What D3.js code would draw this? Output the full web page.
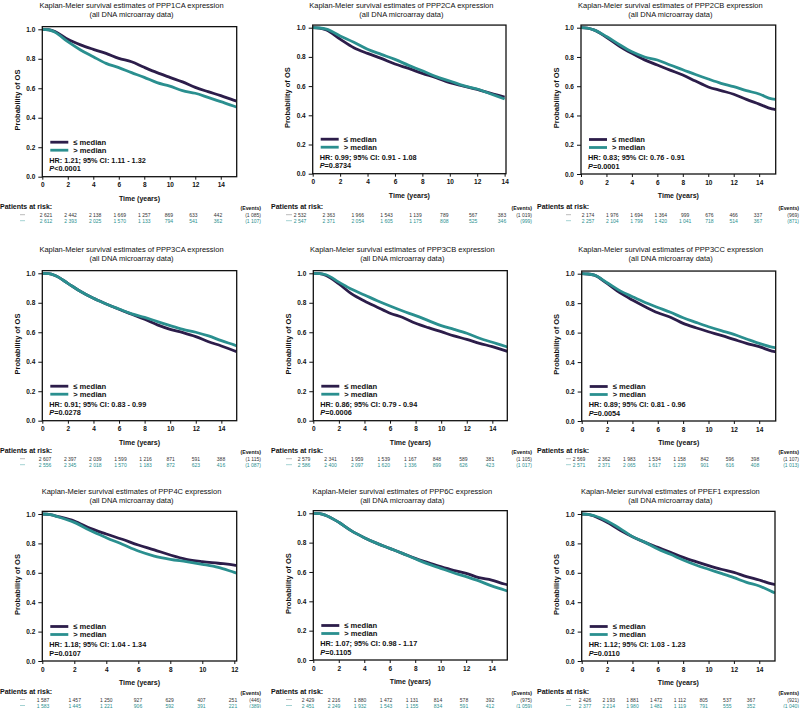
<!DOCTYPE html>
<html><head><meta charset="utf-8">
<script src="https://cdn.jsdelivr.net/npm/d3@7"></script>
<style>
body{margin:0;background:#fff}
svg{display:block}
text{font-family:"Liberation Sans",Arial,Helvetica,sans-serif;fill:#111}
</style>
</head><body>
<svg id="c" width="800" height="708"></svg>
<script>
// ---------------- DATA ----------------
const genes = ["PPP1CA","PPP2CA","PPP2CB","PPP3CA","PPP3CB","PPP3CC","PPP4C","PPP6C","PPEF1"];
const seriesNames = ["\u2264 median", "> median"];

// time points (years) at which the survival curves were read
const survTimes = [
  [0,0.5,1,2,3,4,5,6,7,8,9,10,11,12,13,14,15,15.25],
  [0,0.5,1,2,3,4,5,6,7,8,9,10,11,12,13,14],
  [0,0.5,1,2,3,4,5,6,7,8,9,10,11,12,13,14,15,15.3],
  [0,0.5,1,2,3,4,5,6,7,8,9,10,11,12,13,14,15,15.2],
  [0,0.5,1,2,3,4,5,6,7,8,9,10,11,12,13,14,15,15.17],
  [0,0.5,1,2,3,4,5,6,7,8,9,10,11,12,13,14,15,15.3],
  [0,0.5,1,2,3,4,5,6,7,8,9,10,11,12,12.15],
  [0,0.5,1,2,3,4,5,6,7,8,9,10,11,12,13,14,15,15.23],
  [0,0.5,1,2,3,4,5,6,7,8,9,10,11,12,13,14,15,15.24]
];
// survival, <= median expression
const lowSurv = [
  [1,0.997,0.985,0.932,0.894,0.864,0.837,0.803,0.78,0.742,0.706,0.674,0.643,0.606,0.577,0.55,0.52,0.513],
  [1,0.997,0.985,0.922,0.863,0.824,0.79,0.751,0.721,0.687,0.658,0.623,0.6,0.578,0.55,0.525],
  [1,0.997,0.985,0.935,0.875,0.825,0.78,0.745,0.71,0.677,0.635,0.595,0.57,0.545,0.51,0.478,0.445,0.44],
  [1,0.998,0.985,0.932,0.876,0.83,0.792,0.756,0.722,0.688,0.65,0.62,0.597,0.57,0.536,0.507,0.475,0.468],
  [1,0.998,0.985,0.928,0.86,0.812,0.77,0.729,0.7,0.661,0.631,0.604,0.575,0.552,0.525,0.502,0.475,0.47],
  [1,0.998,0.99,0.934,0.871,0.821,0.776,0.735,0.704,0.663,0.633,0.606,0.581,0.554,0.527,0.505,0.475,0.47],
  [1,0.995,0.982,0.952,0.902,0.864,0.828,0.789,0.756,0.721,0.692,0.676,0.665,0.653,0.65],
  [1,0.998,0.985,0.939,0.88,0.834,0.795,0.761,0.727,0.693,0.664,0.636,0.611,0.591,0.561,0.545,0.518,0.513],
  [1,0.998,0.985,0.943,0.891,0.846,0.807,0.773,0.739,0.705,0.676,0.649,0.624,0.603,0.574,0.551,0.524,0.52]
];
// survival, > median expression
const highSurv = [
  [1,0.997,0.98,0.916,0.86,0.814,0.769,0.74,0.706,0.674,0.638,0.615,0.584,0.566,0.538,0.509,0.48,0.472],
  [1,0.998,0.99,0.943,0.9,0.852,0.817,0.783,0.742,0.705,0.665,0.635,0.603,0.58,0.546,0.512],
  [1,0.997,0.985,0.94,0.885,0.835,0.8,0.779,0.745,0.713,0.68,0.649,0.62,0.597,0.57,0.547,0.513,0.51],
  [1,0.998,0.985,0.932,0.876,0.83,0.792,0.758,0.725,0.701,0.672,0.645,0.62,0.6,0.575,0.543,0.514,0.508],
  [1,0.998,0.99,0.94,0.891,0.853,0.814,0.778,0.744,0.713,0.679,0.645,0.62,0.593,0.559,0.532,0.505,0.5],
  [1,0.998,0.99,0.939,0.885,0.844,0.805,0.771,0.738,0.701,0.67,0.64,0.613,0.588,0.557,0.527,0.502,0.497],
  [1,0.995,0.98,0.943,0.887,0.839,0.794,0.748,0.714,0.692,0.676,0.658,0.637,0.603,0.598],
  [1,0.998,0.985,0.939,0.88,0.834,0.795,0.761,0.727,0.69,0.655,0.625,0.595,0.568,0.539,0.505,0.477,0.47],
  [1,0.998,0.988,0.952,0.902,0.846,0.807,0.762,0.726,0.687,0.653,0.624,0.596,0.567,0.535,0.51,0.472,0.462]
];
const hrLabels = [
  "HR: 1.21; 95% CI: 1.11 - 1.32","HR: 0.99; 95% CI: 0.91 - 1.08","HR: 0.83; 95% CI: 0.76 - 0.91",
  "HR: 0.91; 95% CI: 0.83 - 0.99","HR: 0.86; 95% CI: 0.79 - 0.94","HR: 0.89; 95% CI: 0.81 - 0.96",
  "HR: 1.18; 95% CI: 1.04 - 1.34","HR: 1.07; 95% CI: 0.98 - 1.17","HR: 1.12; 95% CI: 1.03 - 1.23"
];
const pLabels = ["<0.0001","=0.8734","=0.0001","=0.0278","=0.0006","=0.0054","=0.0107","=0.1105","=0.0110"];
const pItalic = [true,true,true,true,true,true,false,true,true];
const xTickMax = [14,14,14,14,14,14,12,14,14];
const yTicks = [0,0.2,0.4,0.6,0.8,1.0];

const riskLow = [
  ["2 621","2 442","2 138","1 669","1 257","869","633","442"],
  ["2 532","2 363","1 966","1 543","1 139","789","567","383"],
  ["2 174","1 976","1 694","1 364","999","676","466","337"],
  ["2 607","2 397","2 039","1 599","1 216","871","591","388"],
  ["2 579","2 341","1 959","1 539","1 167","848","589","381"],
  ["2 569","2 362","1 983","1 534","1 158","842","596","398"],
  ["1 587","1 457","1 250","927","629","407","251"],
  ["2 429","2 216","1 880","1 472","1 131","814","578","392"],
  ["2 426","2 193","1 881","1 472","1 112","805","537","367"]
];
const riskHigh = [
  ["2 612","2 393","2 025","1 570","1 133","794","541","362"],
  ["2 547","2 371","2 054","1 605","1 175","808","525","346"],
  ["2 257","2 104","1 799","1 420","1 041","718","514","367"],
  ["2 556","2 345","2 018","1 570","1 183","872","623","416"],
  ["2 586","2 400","2 097","1 620","1 336","899","626","423"],
  ["2 571","2 371","2 065","1 617","1 239","901","616","408"],
  ["1 583","1 445","1 221","906","592","391","221"],
  ["2 451","2 249","1 932","1 543","1 155","834","591","412"],
  ["2 377","2 214","1 980","1 481","1 119","791","555","352"]
];
const eventsLow = ["(1 085)","(1 019)","(969)","(1 115)","(1 105)","(1 107)","(446)","(975)","(921)"];
const eventsHigh = ["(1 107)","(999)","(871)","(1 087)","(1 017)","(1 013)","(389)","(1 059)","(1 040)"];

// ---------------- LAYOUT ----------------
const frames = [
  {L:42.3,R:236.7,top:29.3,bottom:176.7,xMax:15.25},
  {L:312.7,R:506,top:27.7,bottom:173.7,xMax:14.1},
  {L:581,R:775.7,top:27.7,bottom:174,xMax:15.3},
  {L:42.3,R:236.7,top:273.3,bottom:420.7,xMax:15.2},
  {L:313.3,R:507.3,top:273.3,bottom:420.7,xMax:15.17},
  {L:581.7,R:775.7,top:273.7,bottom:421,xMax:15.3},
  {L:42.3,R:236.7,top:514,bottom:661,xMax:12.15},
  {L:313.3,R:507.3,top:513.3,bottom:660,xMax:15.23},
  {L:581.7,R:775,top:514,bottom:661,xMax:15.24}
];
const rowTitleY = [[5.5,14.8],[249,258.7],[491.5,500.8]];
const rowRiskY = [206.7,450.7,691.5];
const colRisk = [{px:0,m0:20,m1:25,er:261},{px:271,m0:286,m1:292,er:532},{px:537,m0:566,m1:571,er:799}];
const riskRange = [[46,218],[300,502],[588,758],[45,221],[304,490],[579,755],[43,233],[308,490],[585,751]];

const colors = ["#2c1d4a","#2a8f8f"];
const riskColors = ["#333","#2a8f8f"];
const markColors = ["#aaa","#8cc6c6"];

const svg = d3.select("#c");

genes.forEach((g,i)=>{
  const f = frames[i], r = Math.floor(i/3), c = i%3;
  const x = d3.scaleLinear().domain([0,f.xMax]).range([f.L,f.R]);
  const y = d3.scaleLinear().domain([0,1]).range([f.bottom,f.top]);
  const gp = svg.append("g");
  const cx = (f.L+f.R)/2;

  // titles
  gp.append("text").attr("x",cx-8).attr("y",rowTitleY[r][0]).attr("text-anchor","middle")
    .attr("dominant-baseline","central").attr("font-size",7.5)
    .text(`Kaplan-Meier survival estimates of ${g} expression`);
  gp.append("text").attr("x",cx-8).attr("y",rowTitleY[r][1]).attr("text-anchor","middle")
    .attr("dominant-baseline","central").attr("font-size",7.5)
    .text("(all DNA microarray data)");

  // clip
  const cid = "clip"+i;
  gp.append("clipPath").attr("id",cid).append("rect")
    .attr("x",f.L).attr("y",y(1.018)).attr("width",f.R-f.L).attr("height",f.bottom-y(1.018));

  // curves
  const line = d3.line().x(d=>x(d[0])).y(d=>y(d[1])).curve(d3.curveMonotoneX);
  [lowSurv[i],highSurv[i]].forEach((s,k)=>{
    gp.append("path").attr("clip-path",`url(#${cid})`)
      .datum(survTimes[i].map((t,j)=>[t,s[j]]))
      .attr("d",line).attr("fill","none").attr("stroke",colors[k]).attr("stroke-width",2.8)
      .attr("stroke-linejoin","round");
  });

  // box
  gp.append("rect").attr("x",f.L).attr("y",y(1.018)).attr("width",f.R-f.L)
    .attr("height",f.bottom-y(1.018)).attr("fill","none").attr("stroke","#111").attr("stroke-width",1.3);

  // axes
  const xa = gp.append("g").attr("transform",`translate(0,${f.bottom})`)
    .call(d3.axisBottom(x).tickValues(d3.range(0,xTickMax[i]+1,2)).tickSize(3).tickPadding(3).tickFormat(d3.format("d")));
  xa.select(".domain").remove();
  xa.selectAll("line").attr("stroke","#111").attr("stroke-width",1);
  xa.selectAll("text").attr("font-size",6.5).attr("font-weight","bold").attr("fill","#111").attr("font-family",null);

  const ya = gp.append("g").attr("transform",`translate(${f.L},0)`)
    .call(d3.axisLeft(y).tickValues(yTicks).tickSize(4).tickPadding(3).tickFormat(d3.format(".1f")));
  ya.select(".domain").remove();
  ya.selectAll("line").attr("stroke","#111").attr("stroke-width",1);
  ya.selectAll("text").attr("font-size",6.5).attr("font-weight","bold").attr("fill","#111").attr("font-family",null);

  // axis titles
  gp.append("text").attr("transform",`translate(${f.L-25},${(f.top+f.bottom)/2-3}) rotate(-90)`)
    .attr("text-anchor","middle").attr("dominant-baseline","central")
    .attr("font-size",7.5).attr("font-weight","bold").text("Probability of OS");
  gp.append("text").attr("x",cx).attr("y",f.bottom+21.5).attr("text-anchor","middle")
    .attr("dominant-baseline","central").attr("font-size",7).attr("font-weight","bold").text("Time (years)");

  // legend
  [-34.5,-26.5].forEach((dy,k)=>{
    gp.append("line").attr("x1",f.L+8).attr("x2",f.L+26).attr("y1",f.bottom+dy).attr("y2",f.bottom+dy)
      .attr("stroke",colors[k]).attr("stroke-width",2.8);
    gp.append("text").attr("x",f.L+31).attr("y",f.bottom+dy).attr("dominant-baseline","central")
      .attr("font-size",7.6).attr("font-weight","bold").text(seriesNames[k]);
  });
  gp.append("text").attr("x",f.L+7).attr("y",f.bottom-16.3).attr("dominant-baseline","central")
    .attr("font-size",7.3).attr("font-weight","bold").text(hrLabels[i]);
  const pt = gp.append("text").attr("x",f.L+7).attr("y",f.bottom-8.3).attr("dominant-baseline","central")
    .attr("font-size",7.3).attr("font-weight","bold");
  pt.append("tspan").attr("font-style",pItalic[i]?"italic":"normal").text("P");
  pt.append("tspan").text(pLabels[i]);

  // risk table
  const cr = colRisk[c], ry = rowRiskY[r];
  gp.append("text").attr("x",cr.px).attr("y",ry).attr("dominant-baseline","central")
    .attr("font-size",7).attr("font-weight","bold").text("Patients at risk:");
  gp.append("text").attr("x",cr.er).attr("y",ry+1.5).attr("text-anchor","end").attr("dominant-baseline","central")
    .attr("font-size",5.2).attr("font-weight","bold").text("(Events)");
  const rx = d3.scalePoint().domain(d3.range(riskLow[i].length)).range(riskRange[i]);
  [[riskLow[i],eventsLow[i]],[riskHigh[i],eventsHigh[i]]].forEach(([vals,ev],k)=>{
    const yy = ry + 8 + k*6;
    gp.append("line").attr("x1",cr.m0).attr("x2",cr.m1).attr("y1",yy).attr("y2",yy)
      .attr("stroke",markColors[k]).attr("stroke-width",0.8);
    gp.selectAll(null).data(vals).enter().append("text")
      .attr("x",(d,j)=>rx(j)).attr("y",yy).attr("text-anchor","middle").attr("dominant-baseline","central")
      .attr("font-size",5).style("fill",riskColors[k]).text(d=>d);
    gp.append("text").attr("x",cr.er).attr("y",yy).attr("text-anchor","end").attr("dominant-baseline","central")
      .attr("font-size",5).style("fill",riskColors[k]).text(ev);
  });
});
</script>
</body></html>
